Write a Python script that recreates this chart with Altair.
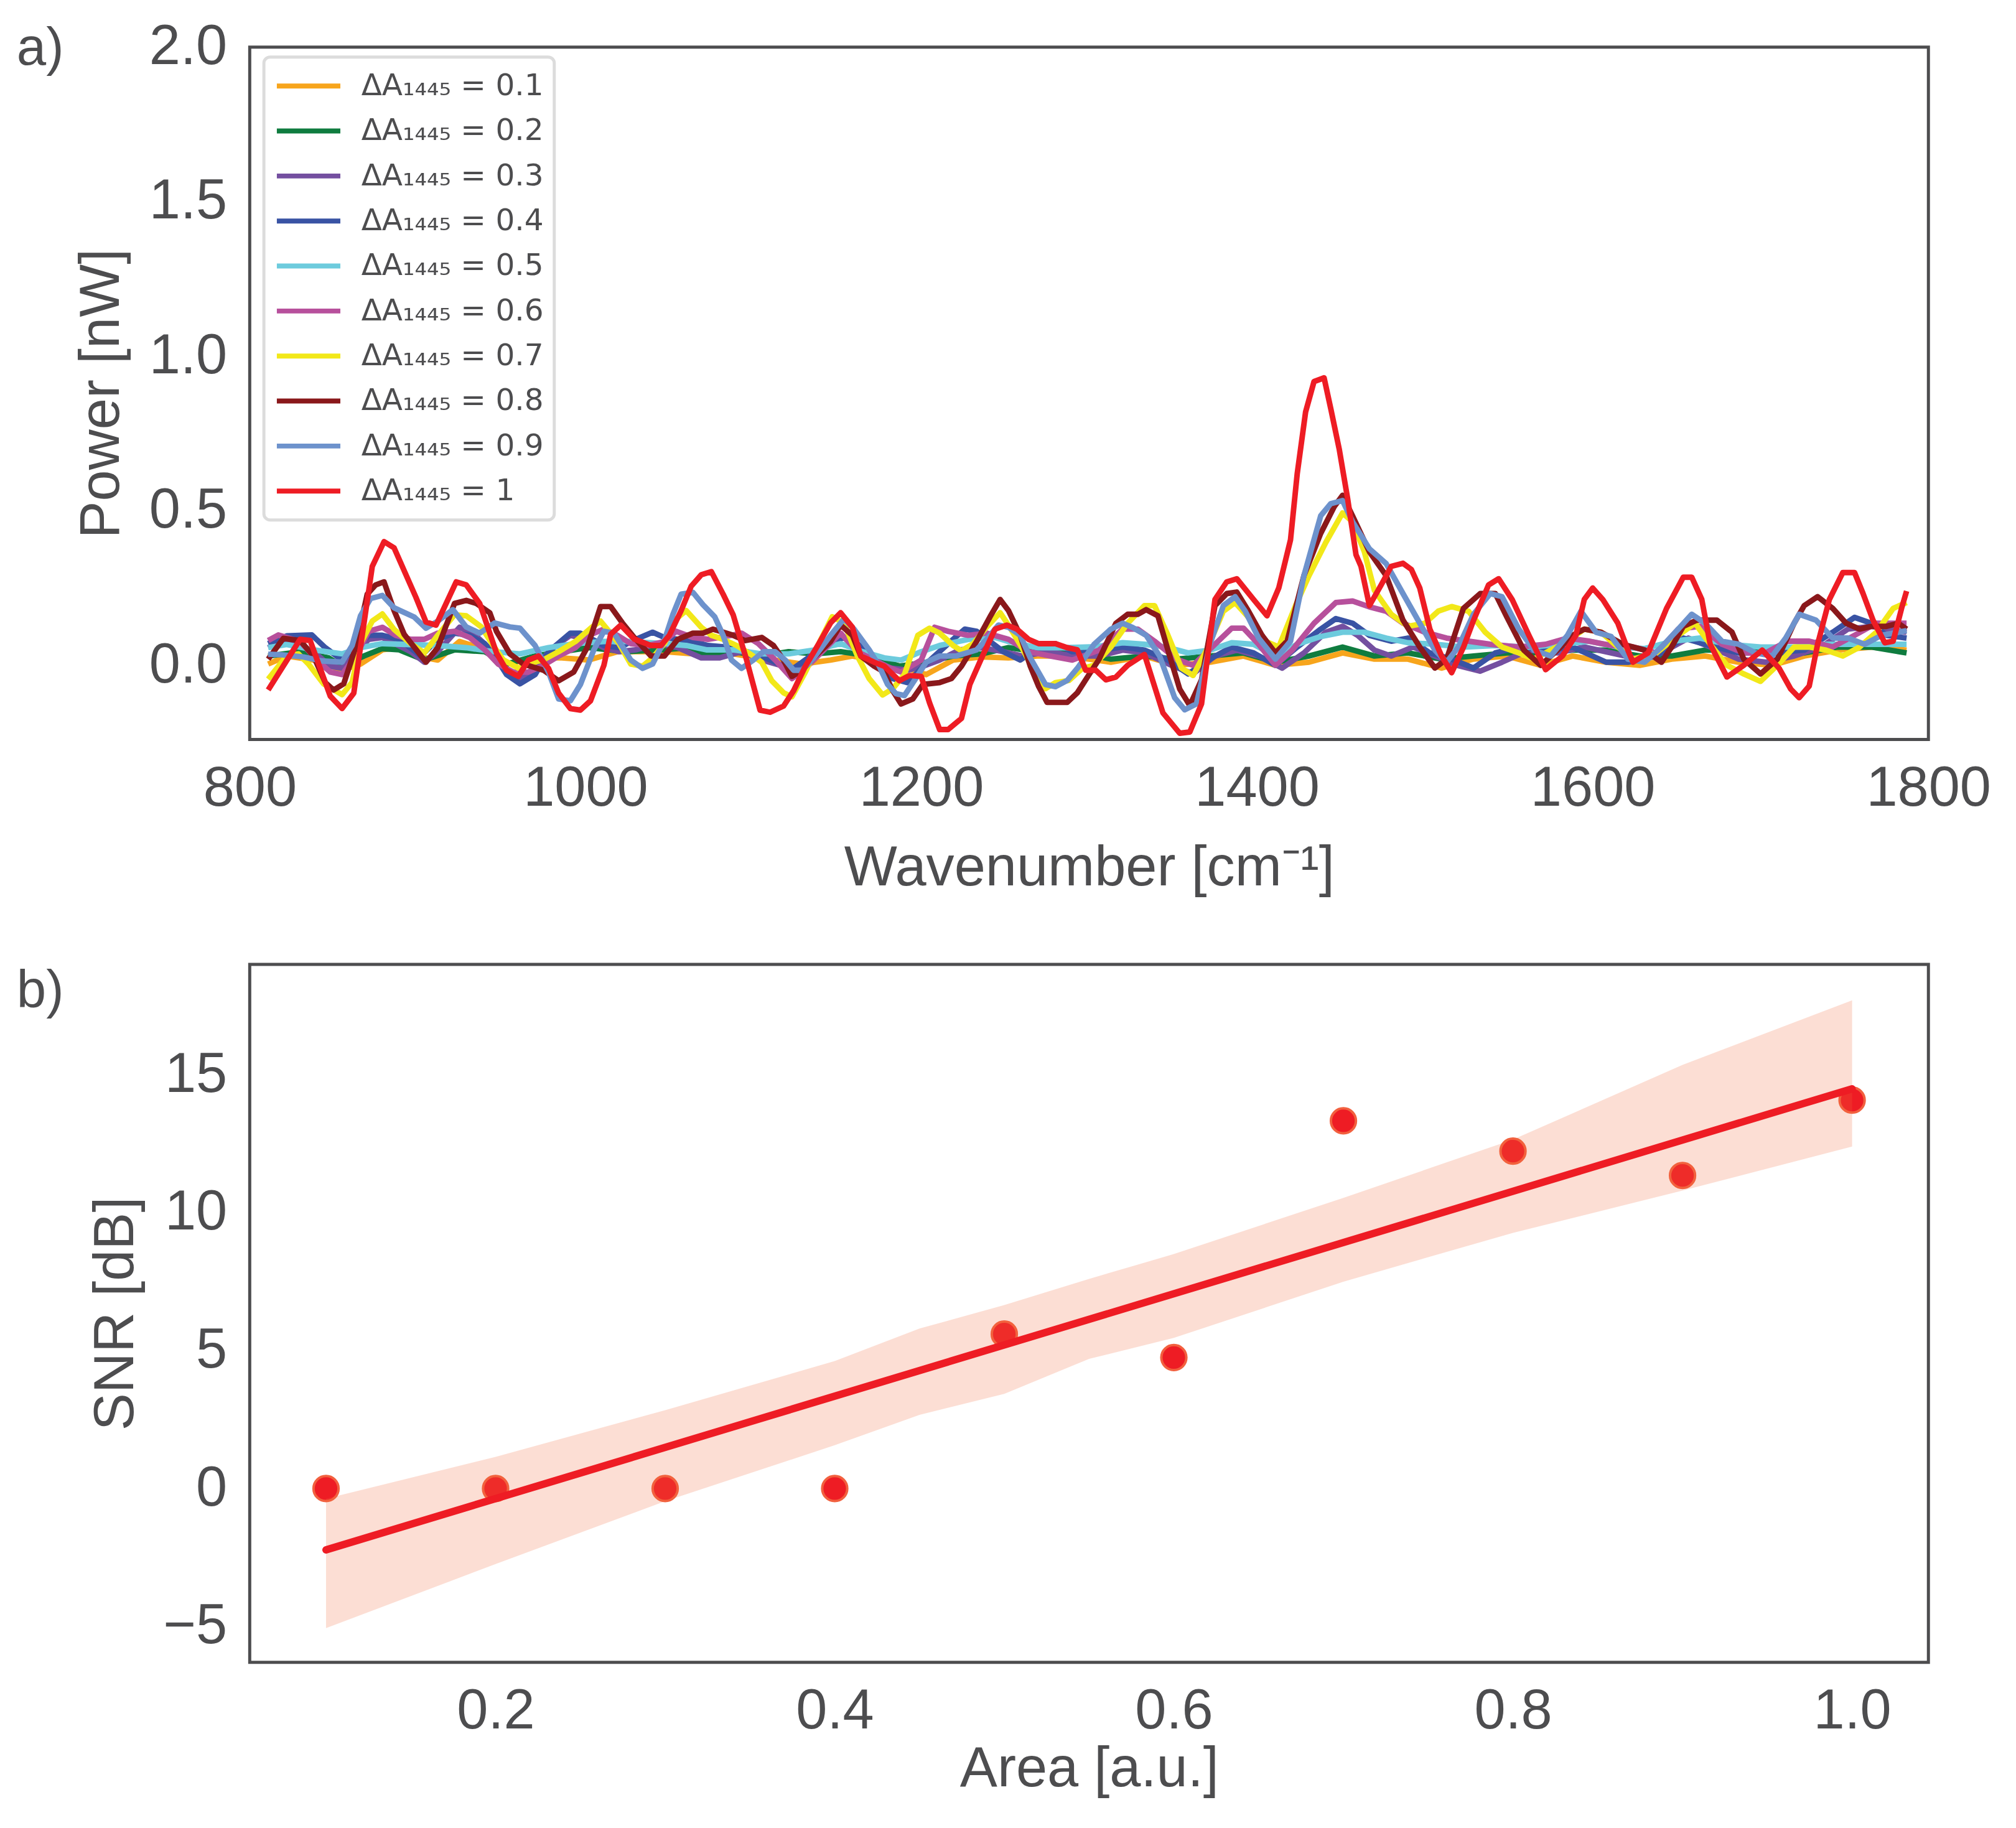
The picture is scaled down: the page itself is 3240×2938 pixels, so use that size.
import altair as alt
import pandas as pd

# ---------------- panel a data (wavenumber, power) ----------------
series_labels = ["ΔA₁₄₄₅ = 0.1", "ΔA₁₄₄₅ = 0.2", "ΔA₁₄₄₅ = 0.3", "ΔA₁₄₄₅ = 0.4",
                 "ΔA₁₄₄₅ = 0.5", "ΔA₁₄₄₅ = 0.6", "ΔA₁₄₄₅ = 0.7", "ΔA₁₄₄₅ = 0.8",
                 "ΔA₁₄₄₅ = 0.9", "ΔA₁₄₄₅ = 1"]
series_colors = ["#f7a51c", "#0f7c3f", "#744fa0", "#3953a4", "#6dcbdd",
                 "#b7509c", "#f2e819", "#8a181b", "#6d92cc", "#ee1c24"]

s01 = [(811,0.004),(822,0.03),(838,0.017),(855,-0.016),(866,0.004),(879,0.05),(889,0.057),(899,0.03),(912,0.017),(925,0.077),(937,0.057),(953,0.004),(970,0.024),(986,0.024),(1002,0.017),(1019,0.044),(1047,0.044),(1064,0.037),(1080,0.044),(1096,0.03),(1113,0.017),(1129,0.004),(1146,0.017),(1159,0.03),(1172,0.017),(1188,-0.003),(1203,-0.03),(1219,0.017),(1236,0.027),(1252,0.024),(1269,0.03),(1285,0.03),(1300,0.02),(1313,0.01),(1333,0.03),(1352,0.0),(1372,0.01),(1392,0.03),(1411,0.0),(1431,0.01),(1451,0.04),(1470,0.02),(1490,0.02),(1510,-0.009),(1529,0.02),(1549,0.03),(1569,0.0),(1588,0.03),(1608,0.01),(1628,0.0),(1647,0.02),(1667,0.03),(1687,0.01),(1707,0.0),(1726,0.03),(1746,0.049),(1766,0.059),(1787,0.049)]
s02 = [(811,0.03),(830,0.044),(847,0.024),(855,-0.003),(868,0.03),(879,0.054),(889,0.05),(904,0.017),(922,0.05),(940,0.044),(953,0.004),(970,0.03),(986,0.044),(1002,0.057),(1024,0.044),(1047,0.05),(1060,0.057),(1072,0.037),(1088,0.044),(1105,0.03),(1121,0.044),(1137,0.037),(1152,0.044),(1170,0.03),(1187,-0.003),(1203,0.01),(1219,0.03),(1236,0.037),(1252,0.057),(1269,0.044),(1285,0.044),(1300,0.035),(1313,0.02),(1333,0.03),(1352,0.02),(1372,0.03),(1392,0.04),(1411,0.01),(1431,0.03),(1451,0.059),(1470,0.03),(1490,0.04),(1510,0.02),(1529,0.03),(1549,0.04),(1569,0.04),(1588,0.049),(1608,0.049),(1628,0.03),(1647,0.03),(1667,0.049),(1687,0.049),(1707,0.04),(1726,0.04),(1746,0.059),(1766,0.059),(1787,0.04)]
s03 = [(811,0.057),(822,0.084),(838,0.044),(848,-0.003),(855,-0.01),(863,0.044),(871,0.084),(879,0.09),(896,0.044),(904,0.01),(912,0.044),(925,0.123),(933,0.104),(945,0.044),(953,-0.016),(961,-0.043),(970,-0.01),(979,0.05),(991,0.097),(1001,0.084),(1011,0.057),(1020,0.044),(1030,0.05),(1043,0.07),(1055,0.057),(1069,0.024),(1080,0.024),(1093,0.044),(1105,0.017),(1118,-0.003),(1126,-0.01),(1139,0.057),(1152,0.097),(1162,0.057),(1173,0.004),(1183,-0.01),(1192,-0.016),(1201,-0.003),(1211,0.017),(1223,0.05),(1236,0.057),(1249,0.044),(1260,0.03),(1277,0.044),(1290,0.03),(1306,0.03),(1320,0.049),(1333,0.04),(1349,0.0),(1362,-0.028),(1375,0.03),(1388,0.049),(1401,0.03),(1415,-0.009),(1428,0.04),(1441,0.107),(1451,0.126),(1460,0.097),(1470,0.049),(1480,0.03),(1493,0.059),(1506,0.03),(1519,0.0),(1533,-0.019),(1546,0.01),(1562,0.049),(1579,0.04),(1595,0.059),(1611,0.04),(1628,0.02),(1641,0.04),(1657,0.088),(1670,0.059),(1687,0.02),(1703,0.01),(1720,0.03),(1736,0.059),(1752,0.117),(1766,0.126),(1787,0.107)]
s04 = [(811,0.07),(822,0.095),(837,0.098),(845,0.057),(855,0.017),(863,0.057),(871,0.097),(879,0.097),(889,0.084),(902,0.03),(912,0.084),(922,0.104),(931,0.097),(940,0.07),(946,0.03),(953,-0.03),(961,-0.06),(970,-0.03),(978,0.044),(991,0.104),(997,0.104),(1004,0.084),(1011,0.064),(1020,0.057),(1030,0.084),(1040,0.107),(1047,0.09),(1055,0.084),(1064,0.077),(1073,0.064),(1088,0.057),(1105,0.03),(1118,-0.003),(1124,-0.01),(1136,0.037),(1146,0.07),(1154,0.09),(1162,0.07),(1175,0.01),(1183,-0.043),(1192,-0.056),(1200,-0.01),(1208,0.03),(1219,0.084),(1226,0.117),(1233,0.11),(1241,0.077),(1249,0.044),(1259,0.017),(1270,0.057),(1280,0.07),(1290,0.044),(1306,0.049),(1320,0.059),(1333,0.049),(1346,0.02),(1359,-0.028),(1372,0.02),(1385,0.059),(1398,0.04),(1411,0.0),(1424,0.059),(1438,0.117),(1447,0.151),(1457,0.136),(1467,0.097),(1480,0.078),(1490,0.088),(1503,0.04),(1516,0.02),(1529,-0.009),(1542,0.04),(1556,0.059),(1572,0.049),(1588,0.059),(1608,0.01),(1621,0.01),(1638,0.03),(1654,0.088),(1667,0.068),(1687,0.04),(1707,0.04),(1726,0.049),(1743,0.107),(1756,0.155),(1766,0.136),(1775,0.097),(1787,0.088)]
s05 = [(811,0.057),(822,0.067),(838,0.05),(855,0.037),(866,0.057),(879,0.07),(896,0.067),(912,0.064),(929,0.057),(945,0.044),(961,0.037),(978,0.057),(994,0.07),(1011,0.077),(1027,0.077),(1047,0.07),(1060,0.064),(1072,0.05),(1088,0.05),(1105,0.037),(1121,0.037),(1137,0.05),(1152,0.07),(1165,0.044),(1178,0.024),(1188,0.017),(1200,0.044),(1211,0.064),(1228,0.084),(1244,0.09),(1252,0.077),(1269,0.057),(1285,0.057),(1304,0.06),(1320,0.073),(1333,0.068),(1346,0.059),(1359,0.04),(1372,0.049),(1385,0.073),(1398,0.068),(1411,0.03),(1424,0.068),(1438,0.093),(1451,0.107),(1464,0.107),(1477,0.088),(1490,0.073),(1506,0.068),(1523,0.059),(1542,0.064),(1562,0.059),(1582,0.068),(1598,0.078),(1615,0.059),(1631,0.054),(1648,0.078),(1664,0.088),(1680,0.068),(1700,0.059),(1720,0.059),(1739,0.068),(1759,0.068),(1787,0.068)]
s06 = [(811,0.08),(817,0.098),(830,0.077),(840,0.017),(848,-0.022),(855,-0.03),(863,0.03),(871,0.11),(879,0.123),(887,0.097),(896,0.084),(904,0.084),(912,0.104),(922,0.11),(931,0.09),(940,0.05),(948,0.004),(957,-0.022),(966,-0.022),(975,0.0),(984,0.03),(994,0.057),(1002,0.097),(1011,0.117),(1019,0.097),(1027,0.07),(1037,0.064),(1047,0.077),(1054,0.11),(1064,0.09),(1073,0.084),(1087,0.097),(1093,0.104),(1103,0.07),(1113,0.017),(1123,-0.043),(1131,-0.01),(1141,0.044),(1152,0.104),(1162,0.044),(1172,0.017),(1182,-0.01),(1188,-0.022),(1200,0.017),(1208,0.123),(1216,0.11),(1228,0.097),(1239,0.104),(1252,0.084),(1264,0.044),(1277,0.03),(1290,0.017),(1306,0.049),(1320,0.117),(1329,0.117),(1339,0.078),(1352,0.02),(1362,0.0),(1375,0.068),(1385,0.12),(1392,0.12),(1401,0.068),(1411,0.0),(1421,0.049),(1434,0.136),(1447,0.203),(1457,0.208),(1467,0.189),(1477,0.175),(1487,0.136),(1500,0.107),(1513,0.088),(1526,0.078),(1539,0.068),(1556,0.059),(1572,0.068),(1585,0.088),(1598,0.078),(1611,0.064),(1624,0.059),(1638,0.04),(1651,0.117),(1664,0.126),(1677,0.068),(1690,0.04),(1703,0.04),(1716,0.078),(1729,0.078),(1743,0.059),(1756,0.097),(1769,0.136),(1787,0.136)]
s07 = [(811,-0.045),(822,0.03),(829,0.037),(835,0.004),(844,-0.06),(855,-0.095),(861,-0.055),(866,0.07),(873,0.143),(879,0.166),(886,0.116),(896,0.07),(904,0.04),(912,0.097),(922,0.163),(929,0.16),(938,0.124),(945,0.064),(951,0.018),(960,-0.009),(966,0.004),(975,0.018),(984,0.044),(994,0.077),(1004,0.124),(1009,0.143),(1014,0.11),(1020,0.07),(1027,0.004),(1034,-0.003),(1040,0.024),(1047,0.07),(1054,0.15),(1060,0.177),(1069,0.123),(1075,0.097),(1082,0.084),(1090,0.064),(1098,0.037),(1105,0.01),(1111,-0.05),(1118,-0.089),(1123,-0.102),(1131,-0.022),(1139,0.07),(1147,0.157),(1154,0.137),(1162,0.03),(1169,-0.043),(1177,-0.096),(1183,-0.076),(1190,-0.03),(1198,0.097),(1205,0.12),(1211,0.104),(1219,0.064),(1224,0.047),(1231,0.07),(1239,0.124),(1247,0.17),(1252,0.13),(1260,0.057),(1267,-0.016),(1274,-0.076),(1280,-0.056),(1288,-0.049),(1296,-0.01),(1303,0.0),(1313,0.059),(1323,0.136),(1333,0.193),(1339,0.193),(1347,0.097),(1355,-0.009),(1362,-0.033),(1370,0.049),(1380,0.175),(1387,0.203),(1395,0.155),(1405,0.078),(1413,0.059),(1423,0.193),(1431,0.29),(1441,0.397),(1451,0.493),(1457,0.464),(1464,0.367),(1470,0.242),(1480,0.165),(1490,0.126),(1500,0.136),(1508,0.175),(1516,0.19),(1526,0.175),(1536,0.107),(1546,0.059),(1556,0.04),(1565,0.02),(1575,0.049),(1585,0.078),(1595,0.117),(1605,0.107),(1615,0.059),(1624,0.02),(1638,0.04),(1651,0.097),(1661,0.136),(1670,0.068),(1680,0.0),(1690,-0.028),(1700,-0.052),(1710,0.0),(1720,0.059),(1729,0.059),(1739,0.049),(1749,0.03),(1759,0.059),(1769,0.107),(1779,0.184),(1787,0.203)]
s08 = [(811,0.02),(820,0.087),(830,0.08),(838,0.03),(845,-0.056),(850,-0.08),(856,-0.06),(863,0.057),(870,0.23),(875,0.26),(880,0.27),(886,0.177),(892,0.10),(905,0.01),(912,0.057),(922,0.20),(929,0.21),(935,0.20),(943,0.17),(947,0.11),(955,0.037),(963,0.004),(975,-0.016),(984,-0.05),(993,-0.022),(1001,0.057),(1009,0.19),(1015,0.19),(1022,0.137),(1029,0.09),(1039,0.03),(1047,0.03),(1055,0.084),(1064,0.104),(1070,0.104),(1076,0.117),(1082,0.107),(1088,0.097),(1095,0.08),(1105,0.09),(1112,0.064),(1118,0.017),(1123,-0.036),(1129,-0.016),(1137,0.03),(1146,0.077),(1152,0.13),(1159,0.097),(1164,0.03),(1172,-0.003),(1178,-0.022),(1183,-0.082),(1188,-0.125),(1195,-0.109),(1201,-0.062),(1211,-0.056),(1218,-0.043),(1224,-0.003),(1233,0.077),(1241,0.157),(1247,0.213),(1252,0.177),(1259,0.097),(1265,-0.003),(1270,-0.069),(1275,-0.12),(1287,-0.12),(1293,-0.089),(1300,-0.03),(1306,0.02),(1316,0.136),(1323,0.165),(1329,0.165),(1334,0.18),(1341,0.16),(1347,0.049),(1354,-0.077),(1360,-0.13),(1367,-0.047),(1375,0.193),(1382,0.232),(1388,0.237),(1395,0.175),(1403,0.097),(1411,0.04),(1418,0.078),(1428,0.29),(1438,0.427),(1446,0.513),(1451,0.55),(1457,0.483),(1467,0.367),(1477,0.29),(1487,0.146),(1497,0.059),(1506,-0.009),(1513,0.02),(1523,0.184),(1533,0.232),(1542,0.232),(1549,0.155),(1559,0.049),(1569,0.0),(1579,0.049),(1588,0.097),(1595,0.117),(1605,0.107),(1618,0.068),(1631,0.049),(1641,0.01),(1647,0.059),(1654,0.126),(1662,0.146),(1674,0.146),(1683,0.107),(1690,0.02),(1700,-0.028),(1710,0.02),(1720,0.136),(1726,0.193),(1734,0.222),(1743,0.184),(1751,0.136),(1759,0.117),(1766,0.126),(1775,0.126),(1782,0.136),(1787,0.117)]
s09 = [(811,0.036),(819,0.034),(832,0.027),(843,0.014),(855,0.01),(861,0.064),(866,0.16),(872,0.216),(879,0.226),(886,0.186),(898,0.156),(905,0.12),(912,0.143),(921,0.18),(929,0.124),(937,0.104),(946,0.137),(955,0.124),(961,0.12),(970,0.064),(978,-0.022),(984,-0.109),(991,-0.115),(997,-0.062),(1005,0.05),(1011,0.11),(1017,0.104),(1027,0.017),(1034,-0.01),(1040,0.004),(1047,0.08),(1052,0.163),(1057,0.23),(1064,0.236),(1070,0.196),(1077,0.157),(1082,0.097),(1087,0.017),(1093,-0.01),(1100,0.017),(1106,0.044),(1113,0.044),(1119,0.017),(1124,-0.016),(1129,-0.016),(1136,0.024),(1146,0.097),(1154,0.15),(1160,0.117),(1169,0.05),(1175,-0.003),(1180,-0.062),(1185,-0.092),(1190,-0.098),(1196,-0.049),(1203,0.01),(1211,0.03),(1221,0.03),(1233,0.05),(1239,0.084),(1246,0.13),(1252,0.123),(1259,0.097),(1265,0.024),(1274,-0.062),(1280,-0.069),(1287,-0.049),(1293,-0.01),(1303,0.068),(1313,0.117),(1320,0.136),(1326,0.122),(1334,0.097),(1342,0.03),(1351,-0.105),(1357,-0.144),(1364,-0.125),(1372,0.068),(1380,0.193),(1387,0.222),(1393,0.175),(1401,0.088),(1411,0.02),(1420,0.078),(1428,0.29),(1438,0.484),(1444,0.523),(1451,0.533),(1457,0.464),(1467,0.377),(1477,0.329),(1487,0.232),(1497,0.136),(1506,0.049),(1513,0.01),(1520,0.059),(1529,0.165),(1539,0.232),(1546,0.222),(1556,0.117),(1565,0.049),(1575,0.03),(1585,0.097),(1593,0.175),(1602,0.107),(1611,0.093),(1621,0.02),(1631,0.01),(1641,0.059),(1651,0.117),(1659,0.165),(1667,0.136),(1677,0.078),(1687,0.068),(1697,0.04),(1707,0.03),(1715,0.088),(1723,0.165),(1733,0.146),(1743,0.088),(1752,0.088),(1762,0.068),(1772,0.097),(1787,0.112)]
s10 = [(811,-0.08),(830,0.084),(836,0.08),(848,-0.10),(855,-0.14),(862,-0.09),(873,0.32),(880,0.40),(886,0.38),(899,0.22),(905,0.14),(911,0.13),(923,0.27),(929,0.26),(937,0.20),(947,0.04),(953,-0.016),(960,-0.036),(966,0.017),(972,0.03),(978,-0.01),(984,-0.09),(991,-0.14),(997,-0.145),(1003,-0.115),(1011,0.0),(1015,0.10),(1021,0.13),(1029,0.085),(1039,0.064),(1045,0.064),(1050,0.097),(1057,0.177),(1063,0.256),(1069,0.293),(1075,0.303),(1082,0.23),(1088,0.163),(1096,0.017),(1104,-0.145),(1110,-0.152),(1118,-0.132),(1124,-0.082),(1131,-0.003),(1139,0.07),(1146,0.137),(1152,0.17),(1159,0.123),(1164,0.03),(1172,0.01),(1178,-0.003),(1187,-0.05),(1193,-0.033),(1200,-0.036),(1205,-0.122),(1211,-0.208),(1216,-0.208),(1224,-0.172),(1229,-0.062),(1236,0.024),(1244,0.117),(1251,0.13),(1257,0.117),(1264,0.084),(1270,0.07),(1280,0.07),(1287,0.057),(1293,0.05),(1298,-0.016),(1304,-0.016),(1310,-0.047),(1316,-0.038),(1323,0.0),(1333,0.035),(1344,-0.154),(1354,-0.22),(1360,-0.216),(1367,-0.125),(1375,0.213),(1382,0.27),(1388,0.28),(1398,0.213),(1406,0.16),(1413,0.25),(1420,0.406),(1424,0.62),(1429,0.82),(1434,0.918),(1440,0.93),(1444,0.83),(1449,0.70),(1454,0.54),(1459,0.358),(1462,0.32),(1467,0.193),(1474,0.26),(1480,0.32),(1487,0.33),(1492,0.31),(1497,0.25),(1503,0.117),(1510,0.03),(1516,-0.024),(1523,0.058),(1529,0.145),(1538,0.26),(1544,0.28),(1552,0.213),(1562,0.097),(1572,-0.014),(1582,0.03),(1590,0.097),(1595,0.213),(1600,0.25),(1606,0.213),(1615,0.136),(1621,0.049),(1624,0.01),(1633,0.04),(1644,0.184),(1654,0.285),(1659,0.285),(1665,0.213),(1670,0.068),(1680,-0.038),(1690,0.0),(1701,0.049),(1711,-0.009),(1718,-0.077),(1723,-0.105),(1729,-0.067),(1734,0.068),(1741,0.213),(1749,0.30),(1756,0.30),(1761,0.233),(1767,0.146),(1774,0.073),(1779,0.078),(1784,0.184),(1787,0.24)]

all_series = [s01, s02, s03, s04, s05, s06, s07, s08, s09, s10]

# ---------------- panel b data ----------------
area = [0.1, 0.2, 0.3, 0.4, 0.5, 0.6, 0.7, 0.8, 0.9, 1.0]
snr = [0.0, 0.0, 0.0, 0.0, 5.6, 4.75, 13.33, 12.23, 11.35, 14.08]

band_x = [0.1, 0.2, 0.3, 0.4, 0.45, 0.5, 0.55, 0.6, 0.7, 0.8, 0.9, 1.0]
band_upper = [-0.37, 1.15, 2.84, 4.62, 5.8, 6.65, 7.6, 8.5, 10.54, 12.65, 15.36, 17.7]
band_lower = [-5.06, -2.74, -0.46, 1.57, 2.67, 3.43, 4.7, 5.46, 7.5, 9.27, 10.8, 12.4]

TEXT = "#4d4d4f"
FONT = "Liberation Sans"

rows = []
for k, (lab, pts) in enumerate(zip(series_labels, all_series)):
    for w, p in pts:
        rows.append({"wn": w, "power": p, "series": lab, "k": k})
df_a = pd.DataFrame(rows)

lines = alt.Chart(df_a).mark_line(strokeWidth=9, strokeJoin="round", clip=True).encode(
    x=alt.X("wn:Q", title="Wavenumber [cm⁻¹]",
            scale=alt.Scale(domain=[800, 1800], nice=False, zero=False),
            axis=alt.Axis(values=[800, 1000, 1200, 1400, 1600, 1800], format="d",
                          titlePadding=39)),
    y=alt.Y("power:Q", title="Power [nW]",
            scale=alt.Scale(domain=[-0.24, 2.0], nice=False, zero=False),
            axis=alt.Axis(values=[0, 0.5, 1.0, 1.5, 2.0], format=".1f")),
    color=alt.Color("series:N", sort=series_labels,
                    scale=alt.Scale(domain=series_labels, range=series_colors),
                    legend=alt.Legend(title=None, orient="none", legendX=23, legendY=16,
                                      symbolType="stroke", symbolSize=10609,
                                      symbolStrokeWidth=8, clipHeight=60, rowPadding=13,
                                      labelFont="DejaVu Sans", labelFontSize=49,
                                      labelLimit=2000,
                                      labelColor=TEXT, labelOffset=30, padding=17,
                                      fillColor="white", strokeColor="#dcdcdc",
                                      cornerRadius=10)),
    order=alt.Order("k:Q"),
)

lab_a = alt.Chart(pd.DataFrame({"t": ["a)"]})).mark_text(
    align="left", baseline="top", font=FONT, fontSize=86, color=TEXT
).encode(text="t:N", x=alt.value(-378), y=alt.value(-40))

panel_a = alt.layer(lines, lab_a).properties(width=2723, height=1123)

df_p = pd.DataFrame({"area": area, "snr": snr})
df_band = pd.DataFrame({"area": band_x, "upper": band_upper, "lower": band_lower})

xb = alt.X("area:Q", title="Area [a.u.]",
           scale=alt.Scale(domain=[0.055, 1.045], nice=False, zero=False),
           axis=alt.Axis(values=[0.2, 0.4, 0.6, 0.8, 1.0], format=".1f", titlePadding=4))
yb = alt.Y("snr:Q", title="SNR [dB]",
           scale=alt.Scale(domain=[-6.3, 19], nice=False, zero=False),
           axis=alt.Axis(values=[-5, 0, 5, 10, 15], format="d"))

pts = alt.Chart(df_p).mark_point(filled=True, shape="circle", size=1650, opacity=1,
                                 color="#ee1c24", stroke="#f2603f", strokeWidth=4).encode(x=xb, y=yb)
band = alt.Chart(df_band).mark_area(color="#f26a3a", opacity=0.22).encode(
    x=alt.X("area:Q"), y=alt.Y("upper:Q"), y2=alt.Y2("lower:Q"))
reg = alt.Chart(df_p).transform_regression("area", "snr", extent=[0.1, 1.0]).mark_line(
    color="#ee1c24", strokeWidth=12, strokeCap="round").encode(x=xb, y=yb)
lab_b = alt.Chart(pd.DataFrame({"t": ["b)"]})).mark_text(
    align="left", baseline="top", font=FONT, fontSize=86, color=TEXT
).encode(text="t:N", x=alt.value(-378), y=alt.value(2))

panel_b = alt.layer(pts, band, reg, lab_b).properties(width=2723, height=1132)

chart = alt.vconcat(panel_a, panel_b, spacing=105).configure(
    padding={"left": 16, "top": 6, "right": 30, "bottom": -6},
    font=FONT,
).configure_view(stroke=TEXT, strokeWidth=5).configure_axis(
    labelFont=FONT, labelFontSize=91, labelColor=TEXT, labelLimit=2000,
    titleFont=FONT, titleFontSize=91, titleColor=TEXT, titleFontWeight="normal",
    domain=False, ticks=False, grid=False, labelFlush=False, labelOverlap=False,
).configure_axisX(labelPadding=35).configure_axisY(
    labelPadding=37, titlePadding=30).configure_legend(strokeWidth=5)

chart.save("out.html", embed_options={"renderer": "svg", "actions": False})
